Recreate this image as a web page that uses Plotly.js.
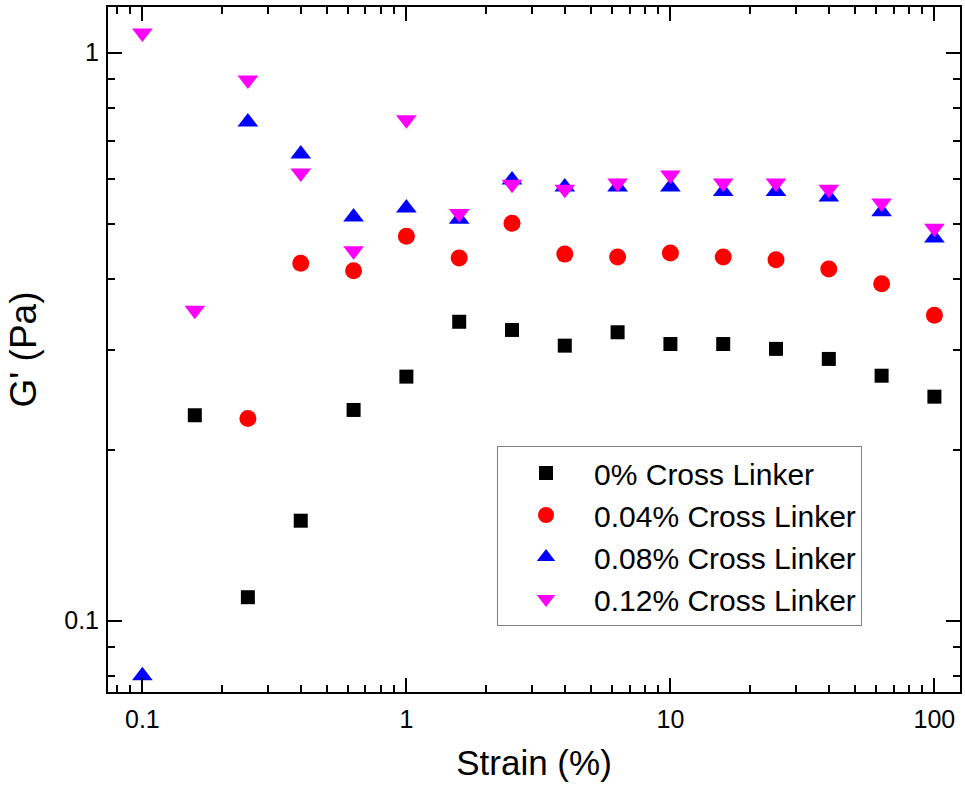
<!DOCTYPE html>
<html>
<head>
<meta charset="utf-8">
<script src="https://cdn.plot.ly/plotly-3.0.1.min.js"></script>
<style>html,body{margin:0;padding:0;background:#fff;}#chart{width:965px;height:797px;}</style>
</head>
<body>
<div id="chart"></div>
<script>
const strain = [0.1, 0.158, 0.251, 0.398, 0.631, 1, 1.585, 2.512, 3.981, 6.31, 10, 15.85, 25.12, 39.81, 63.1, 100];
const g0  = [null, 0.230, 0.110, 0.150, 0.235, 0.269, 0.336, 0.325, 0.305, 0.322, 0.307, 0.307, 0.301, 0.289, 0.270, 0.248];
const g04 = [null, null, 0.227, 0.426, 0.413, 0.475, 0.435, 0.501, 0.442, 0.437, 0.444, 0.437, 0.432, 0.416, 0.392, 0.345];
const g08 = [0.080, null, 0.755, 0.663, 0.514, 0.533, 0.509, 0.597, 0.580, 0.580, 0.580, 0.570, 0.570, 0.557, 0.525, 0.472];
const g12 = [1.083, 0.352, 0.895, 0.614, 0.448, 0.762, 0.521, 0.587, 0.575, 0.590, 0.609, 0.590, 0.590, 0.575, 0.544, 0.491];
const names = ['0% Cross Linker', '0.04% Cross Linker', '0.08% Cross Linker', '0.12% Cross Linker'];
const xTickVals = [0.1, 1, 10, 100];
const xTickText = ['0.1', '1', '10', '100'];
const yTickVals = [0.1, 1];
const yTickText = ['0.1', '1'];

const FONT = 'Liberation Sans, Arial, sans-serif';
function tr(y, name, sym, color, size) {
  return {x: strain, y: y, name: name, type: 'scatter', mode: 'markers',
    marker: {symbol: sym, color: color, size: size, line: {width: 0}}};
}
const data = [
  tr(g0, names[0], 'square', '#000000', 14),
  tr(g04, names[1], 'circle', '#ff0000', 17),
  tr(g08, names[2], 'triangle-up', '#0000ff', 18),
  tr(g12, names[3], 'triangle-down', '#ff00ff', 18)
];
const axisCommon = {
  type: 'log', showgrid: false, zeroline: false, showline: true, linecolor: '#000', linewidth: 2,
  mirror: 'allticks', ticks: 'inside', ticklen: 14, tickwidth: 2, tickcolor: '#000',
  tickfont: {family: FONT, size: 25, color: '#000'},
  minor: {ticks: 'inside', ticklen: 7, tickwidth: 2, tickcolor: '#000', dtick: 'D1', showgrid: false}
};
const layout = {
  width: 965, height: 797,
  margin: {l: 108, r: 5, t: 7, b: 105},
  paper_bgcolor: '#fff', plot_bgcolor: '#fff',
  showlegend: true,
  xaxis: Object.assign({}, axisCommon, {
    range: [Math.log10(0.0741), Math.log10(125)],
    tickmode: 'array', tickvals: xTickVals, ticktext: xTickText,
    ticklabelstandoff: 4,
    title: {text: 'Strain (%)', font: {family: FONT, size: 35, color: '#000'}, standoff: 18}
  }),
  yaxis: Object.assign({}, axisCommon, {
    range: [-1.1255, 0.0805],
    tickmode: 'array', tickvals: yTickVals, ticktext: yTickText,
    ticklabelstandoff: 2,
    title: {text: "G' (Pa)", font: {family: FONT, size: 37, color: '#000'}, standoff: 16}
  }),
  legend: {
    x: 0.4566, y: 0.3591, xanchor: 'left', yanchor: 'top',
    bgcolor: '#fff', bordercolor: '#808080', borderwidth: 1,
    font: {family: FONT, size: 30, color: '#000'},
    itemwidth: 86, tracegroupgap: 0
  }
};
Plotly.newPlot('chart', data, layout, {displayModeBar: false, staticPlot: true});
</script>
</body>
</html>
